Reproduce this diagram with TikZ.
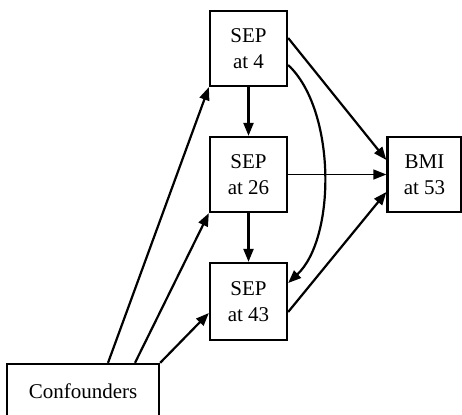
\documentclass[tikz,border=0pt]{standalone}
\usepackage{fontspec}
\setmainfont{Liberation Serif}
\usetikzlibrary{arrows.meta}
\begin{document}
\begin{tikzpicture}[x=1pt,y=-1pt,
  box/.style={draw,line width=2.3pt,inner sep=0pt,align=center,
    font=\fontsize{21}{25.5}\selectfont},
  arr/.style={line width=2.2pt,-{Triangle[length=13pt,width=10pt]}},
  thinarr/.style={line width=1.5pt,-{Triangle[length=13pt,width=10pt]}}]
\useasboundingbox (0,0) rectangle (462,414);
\node[box,minimum width=77pt,minimum height=75pt] (s4) at (248.5,48.5) {SEP\\at 4};
\node[box,minimum width=77pt,minimum height=75pt] (s26) at (248.5,174.5) {SEP\\at 26};
\node[box,minimum width=77pt,minimum height=77pt] (s43) at (248.5,301.5) {SEP\\at 43};
\node[box,minimum width=74pt,minimum height=75pt] (bmi) at (424.5,174.5) {BMI\\at 53};
\node[box,minimum width=152pt,minimum height=54pt] (conf) at (83,391) {Confounders};
\draw[arr] ([xshift=25pt]conf.north) -- (s4.south west);
\draw[arr] ([xshift=52pt]conf.north) -- (s26.south west);
\draw[arr] (conf.north east) -- ([yshift=-11.5pt]s43.west);
\draw[arr] (s4) -- (s26);
\draw[arr] (s26) -- (s43);
\draw[arr] ([yshift=10.5pt]s4.east) -- ([yshift=14.5pt]bmi.west);
\draw[thinarr] (s26) -- (bmi);
\draw[arr] ([yshift=-10.5pt]s43.east) -- ([yshift=-17.5pt]bmi.west);
\draw[arr] ([yshift=-16.5pt]s4.east) .. controls +(48,45) and +(48,-45) .. ([yshift=18.5pt]s43.east);
\end{tikzpicture}
\end{document}
